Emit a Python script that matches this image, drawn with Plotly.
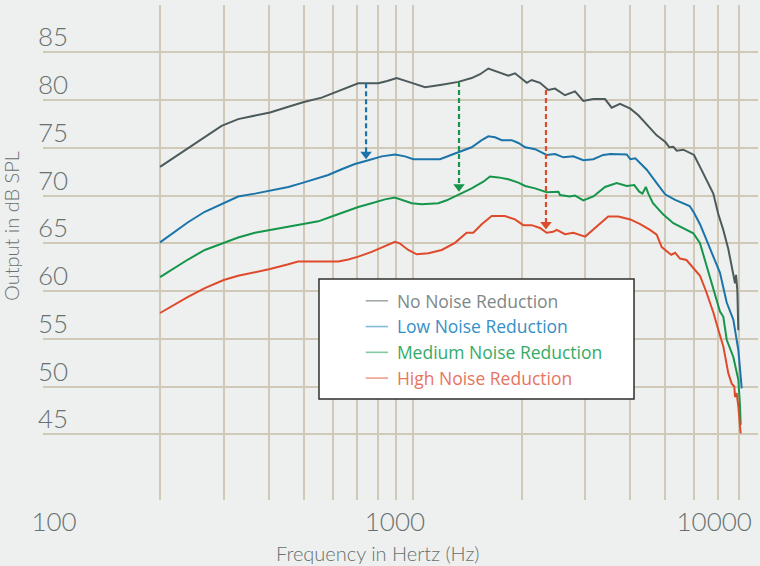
import plotly.graph_objects as go

# ---------------- data ----------------
freq_none = [200, 239, 266, 296, 329, 366, 403, 453, 500, 560, 610, 664, 707, 760, 803, 850, 903,
             994, 1082, 1203, 1337, 1456, 1536, 1619, 1725, 1839, 1919, 2000, 2068, 2134, 2250,
             2372, 2476, 2638, 2812, 2965, 3160, 3404, 3552, 3746, 4000, 4209, 4485, 4731, 5000,
             5128, 5260, 5374, 5606, 6000, 6234, 6573, 6784, 7000, 7232, 7465, 7709, 7793, 7842,
             7907, 7957]
db_none = [73.0, 74.95, 76.2, 77.3, 78.0, 78.4, 78.7, 79.3, 79.8, 80.25, 80.8, 81.3, 81.75, 81.75,
           81.75, 82.0, 82.3, 81.8, 81.33, 81.6, 81.9, 82.3, 82.7, 83.3, 82.9, 82.55, 82.8, 82.2,
           81.8, 82.1, 81.8, 81.05, 81.2, 80.5, 80.9, 79.9, 80.1, 80.1, 79.2, 79.6, 79.1, 78.4,
           77.3, 76.3, 75.6, 75.05, 75.1, 74.7, 74.8, 74.25, 73.0, 71.3, 70.2, 68.1, 66.4, 64.4,
           61.9, 60.8, 61.7, 60.1, 55.9]

freq_low = [200, 239, 266, 300, 329, 366, 403, 453, 493, 537, 584, 636, 692, 754, 821, 893, 952,
            1004, 1082, 1190, 1309, 1456, 1552, 1619, 1689, 1763, 1878, 1960, 2047, 2181, 2347,
            2476, 2612, 2780, 2965, 3160, 3365, 3530, 3909, 4000, 4130, 4440, 4731, 5000, 5322,
            5606, 5837, 6000, 6234, 6506, 6783, 7080, 7390, 7708, 7959, 8045, 8132]
db_low = [65.1, 67.2, 68.3, 69.25, 69.9, 70.2, 70.5, 70.9, 71.3, 71.7, 72.15, 72.75, 73.3, 73.7,
          74.1, 74.3, 74.1, 73.8, 73.8, 73.8, 74.4, 75.05, 75.8, 76.2, 76.1, 75.8, 75.8, 75.5,
          75.05, 74.85, 74.25, 74.35, 74.0, 74.1, 73.7, 73.8, 74.25, 74.35, 74.3, 73.8, 73.9,
          72.7, 71.3, 70.1, 69.55, 69.2, 68.9, 68.2, 67.0, 65.3, 63.6, 61.9, 58.8, 57.0, 53.8,
          51.4, 49.8]

freq_med = [200, 239, 266, 300, 329, 366, 403, 453, 500, 548, 597, 650, 707, 770, 838, 893, 942,
            994, 1059, 1177, 1242, 1337, 1456, 1568, 1636, 1725, 1839, 1960, 2047, 2181, 2347,
            2530, 2556, 2720, 2812, 2965, 3160, 3404, 3667, 3909, 4100, 4234, 4320, 4415, 4485,
            4620, 4936, 5260, 5606, 5975, 6234, 6506, 6783, 7080, 7232, 7390, 7708, 7959, 8045,
            8077]
db_med = [61.45, 63.3, 64.3, 65.0, 65.6, 66.1, 66.4, 66.75, 67.0, 67.3, 67.8, 68.3, 68.8, 69.2,
          69.6, 69.8, 69.5, 69.2, 69.1, 69.2, 69.5, 70.05, 70.75, 71.45, 72.0, 71.9, 71.7, 71.35,
          71.0, 70.75, 70.35, 70.4, 70.05, 69.9, 70.0, 69.5, 69.9, 70.9, 71.3, 71.0, 71.1, 70.4,
          70.2, 70.9, 70.2, 69.2, 68.0, 67.1, 66.55, 66.05, 65.0, 62.6, 60.1, 57.85, 57.3, 54.9,
          53.1, 50.7, 47.9, 46.0]

freq_high = [200, 239, 266, 300, 329, 366, 403, 453, 482, 525, 623, 664, 707, 770, 838, 893, 920,
             972, 1026, 1105, 1203, 1309, 1410, 1471, 1552, 1654, 1799, 1919, 2022, 2134, 2250,
             2347, 2447, 2502, 2638, 2782, 3000, 3226, 3474, 3706, 4000, 4259, 4534, 4731, 4885,
             5105, 5192, 5322, 5488, 5719, 5975, 6234, 6490, 6794, 7011, 7232, 7465, 7628, 7756,
             7790, 7874, 7959, 8045, 8077]
db_high = [57.7, 59.4, 60.3, 61.15, 61.6, 61.95, 62.3, 62.8, 63.1, 63.1, 63.1, 63.3, 63.6, 64.1,
           64.7, 65.15, 65.0, 64.3, 63.85, 63.95, 64.3, 65.05, 66.1, 66.1, 67.0, 67.85, 67.85,
           67.5, 66.9, 66.9, 66.6, 66.1, 66.2, 66.4, 65.95, 66.1, 65.7, 66.7, 67.8, 67.8, 67.5,
           67.0, 66.4, 65.9, 64.6, 64.0, 63.8, 64.0, 63.4, 63.25, 62.4, 61.6, 59.9, 57.7, 55.9,
           54.2, 51.4, 50.3, 50.0, 48.9, 49.3, 47.9, 45.8, 45.1]

series_names = ["No Noise Reduction", "Low Noise Reduction",
                "Medium Noise Reduction", "High Noise Reduction"]

# dashed arrows: frequency, start level, end level (tip)
arrow_freq = [743, 1343, 2337]
arrow_from = [81.75, 81.9, 81.05]
arrow_to = [73.8, 70.4, 66.45]

x_tick_vals = [101.8, 893, 6823]
x_tick_text = ["100", "1000", "10000"]
x_grid = [200, 300, 400, 500, 600, 700, 800, 900,
          1000, 2000, 3000, 4000, 5000, 6000, 7000, 8000]
y_grid = [45, 50, 55, 60, 65, 70, 75, 80, 85]
y_tick_text = [str(v) for v in y_grid]

# ---------------- styles ----------------
line_colors = ["#4c5a5b", "#1b74a9", "#16954b", "#de4a2b"]
text_colors = ["#7e8887", "#3590c6", "#34ab69", "#e6755f"]
swatch_colors = ["#a5abab", "#86bbd9", "#85c9a2", "#efa08f"]
bg = "#eef0ef"
grid_col = "#d0c9b8"
label_col = "#667170"
FONT = "Lato"
LEGEND_FONT = "Open Sans"
WEIGHT = 300

W, H = 760, 566
M = dict(l=43, r=2, t=5, b=66, pad=0)
Y_RANGE = [38.12, 89.95]
px_per_db = (H - M["t"] - M["b"]) / (Y_RANGE[1] - Y_RANGE[0])
HEAD = 10  # arrow head marker size (px)

fig = go.Figure()

series = [(freq_none, db_none), (freq_low, db_low), (freq_med, db_med), (freq_high, db_high)]
for (fx, fy), c in zip(series, line_colors):
    fig.add_trace(go.Scatter(x=fx, y=fy, mode="lines", line=dict(color=c, width=2),
                             showlegend=False, hoverinfo="skip"))

# dashed arrow shafts + triangular heads (tip placed on the end level)
for f, a, b, c in zip(arrow_freq, arrow_from, arrow_to, line_colors[1:]):
    head_center = b + (HEAD / 2) / px_per_db
    fig.add_trace(go.Scatter(
        x=[f, f], y=[a, head_center], mode="lines",
        line=dict(color=c, width=2.2, dash="5px,3px"),
        showlegend=False, hoverinfo="skip"))
    fig.add_trace(go.Scatter(
        x=[f], y=[head_center], mode="markers",
        marker=dict(symbol="triangle-down", size=HEAD, color=c, line=dict(width=0)),
        showlegend=False, hoverinfo="skip"))

# legend entries
for name, tc, sc in zip(series_names, text_colors, swatch_colors):
    fig.add_trace(go.Scatter(
        x=[None], y=[None], mode="markers",
        marker=dict(symbol="line-ew-open", size=18, color=sc, line=dict(color=sc, width=1.6)),
        name=f'<span style="color:{tc}">{name}</span>'))

fig.add_shape(type="rect", xref="paper", yref="paper",
              x0=0.386, x1=0.8266, y0=0.204, y1=0.4465,
              fillcolor="white", line=dict(color="#2e2e2e", width=1.5), layer="above")

fig.add_annotation(text="Output in dB SPL", xref="paper", yref="paper",
                   x=-0.0448, y=0.5535, xanchor="center", yanchor="middle",
                   textangle=-90, showarrow=False,
                   font=dict(family=FONT, size=20, color=label_col, weight=WEIGHT))
fig.add_annotation(text="Frequency in Hertz (Hz)", xref="paper", yref="paper",
                   x=0.4685, y=-0.107, xanchor="center", yanchor="middle", showarrow=False,
                   font=dict(family=FONT, size=20, color=label_col, weight=WEIGHT))

fig.update_layout(
    width=W, height=H,
    margin=M,
    paper_bgcolor=bg, plot_bgcolor=bg,
    font=dict(family=FONT, color=label_col),
    showlegend=True,
    legend=dict(x=0.439, y=0.4385, xanchor="left", yanchor="top",
                bgcolor="rgba(0,0,0,0)", borderwidth=0,
                font=dict(family=LEGEND_FONT, size=17.5, color=label_col)),
    xaxis=dict(type="log", range=[1.9773, 3.9552],
               tickmode="array", tickvals=x_tick_vals, ticktext=x_tick_text,
               showgrid=False, zeroline=False, showline=False, ticks="",
               ticklabeloverflow="allow", ticklabelstandoff=4,
               tickfont=dict(family=FONT, size=26, color=label_col, weight=WEIGHT),
               minor=dict(tickvals=x_grid, showgrid=True, gridcolor=grid_col,
                          gridwidth=1.8, ticks="")),
    yaxis=dict(range=Y_RANGE,
               tickmode="array", tickvals=y_grid, ticktext=y_tick_text,
               showgrid=True, gridcolor=grid_col, gridwidth=1.8,
               zeroline=False, showline=False, ticks="",
               ticklabelposition="inside", ticklabelshift=-15,
               ticklabelstandoff=-8, ticklabeloverflow="allow",
               tickfont=dict(family=FONT, size=26, color=label_col, weight=WEIGHT)),
)

fig.write_html("out.html", config={"displayModeBar": False},
               post_script="document.body.style.margin='0px';"
                           "document.body.style.background='%s';" % bg)
